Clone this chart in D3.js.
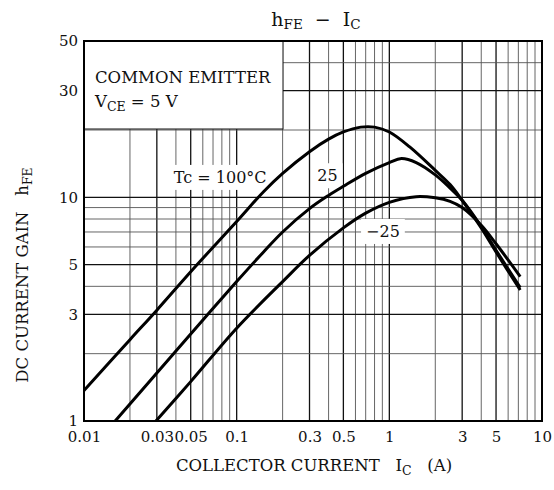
<!DOCTYPE html>
<html lang="en">
<head>
<meta charset="UTF-8">
<title>hFE - IC</title>
<script src="https://cdn.jsdelivr.net/npm/d3@7/dist/d3.min.js"></script>
<style>
    body { margin: 0; background: #fff; }
    svg text { font-family: "DejaVu Serif", "Liberation Serif", serif; fill: #111; }
</style>
</head>
<body>
<script>
    // tick labels
    const icTicks = [0.01, 0.03, 0.05, 0.1, 0.3, 0.5, 1, 3, 5, 10];
    const icTickText = ["0.01", "0.03", "0.05", "0.1", "0.3", "0.5", "1", "3", "5", "10"];
    const hfeTicks = [1, 3, 5, 10, 30, 50];

    // curves (IC in A, hFE)
    const tc100Ic  = [0.01, 0.02, 0.03, 0.05, 0.1, 0.15, 0.2, 0.3, 0.4, 0.5, 0.65, 0.8, 1.0, 1.36, 2.0, 2.5, 3.0, 4.0, 5.0, 7.2];
    const tc100Hfe = [1.37, 2.31, 3.13, 4.65, 7.8, 10.6, 12.8, 16.0, 18.2, 19.6, 20.6, 20.6, 19.6, 16.8, 13.2, 11.4, 9.7, 7.3, 5.7, 3.85];
    const tc25Ic   = [0.016, 0.03, 0.05, 0.1, 0.15, 0.2, 0.3, 0.4, 0.5, 0.7, 1.0, 1.2, 1.5, 2.0, 2.5, 3.0, 4.0, 5.0, 7.2];
    const tc25Hfe  = [1.0, 1.64, 2.45, 4.2, 5.7, 7.0, 8.9, 10.2, 11.2, 12.8, 14.3, 14.9, 14.3, 12.6, 11.0, 9.7, 7.4, 5.8, 3.95];
    const tcm25Ic  = [0.0296, 0.05, 0.1, 0.2, 0.3, 0.5, 0.7, 1.0, 1.5, 2.0, 2.5, 3.0, 4.0, 5.0, 7.2];
    const tcm25Hfe = [1.0, 1.5, 2.6, 4.2, 5.5, 7.3, 8.5, 9.5, 10.07, 9.95, 9.6, 9.0, 7.5, 6.2, 4.42];

    // curve labels: text, IC at centre, hFE at baseline
    const labelText = ["Tc = 100\u00B0C", "25", "\u221225"];
    const labelIc = [0.078, 0.393, 0.908];
    const labelHfe = [11.6, 11.8, 6.65];

    const width = 554, height = 490;
    const margin = { top: 41, right: 12, bottom: 69, left: 84 };
    const innerWidth = width - margin.left - margin.right;
    const innerHeight = height - margin.top - margin.bottom;

    const svg = d3.select("body").append("svg")
        .attr("width", width)
        .attr("height", height);

    const g = svg.append("g")
        .attr("transform", `translate(${margin.left},${margin.top})`);

    const x = d3.scaleLog().domain([0.01, 10]).range([0, innerWidth]);
    const y = d3.scaleLog().domain([1, 50]).range([innerHeight, 0]);

    // grid lines: 1..9 in every decade
    const xGrid = [];
    [0.01, 0.1, 1].forEach(d => { for (let k = 1; k < 10; k++) xGrid.push(+(d * k).toPrecision(3)); });
    const yGrid = [];
    [1, 10].forEach(d => { for (let k = 1; k < 10; k++) if (d * k <= 50) yGrid.push(d * k); });
    const isMajor = v => [1, 3, 5].includes(Math.round(v / Math.pow(10, Math.floor(Math.log10(v) + 1e-9))));

    g.append("g").selectAll("line")
        .data(xGrid.filter(d => d > 0.01))
        .enter().append("line")
        .attr("x1", d => x(d)).attr("x2", d => x(d))
        .attr("y1", 0).attr("y2", innerHeight)
        .attr("stroke", d => isMajor(d) ? "#111" : "#555")
        .attr("stroke-width", d => isMajor(d) ? 1.3 : 0.9);

    g.append("g").selectAll("line")
        .data(yGrid.filter(d => d > 1))
        .enter().append("line")
        .attr("x1", 0).attr("x2", innerWidth)
        .attr("y1", d => y(d)).attr("y2", d => y(d))
        .attr("stroke", d => isMajor(d) ? "#111" : "#555")
        .attr("stroke-width", d => isMajor(d) ? 1.3 : 0.9);

    // legend box hides the grid
    g.append("rect")
        .attr("x", 0).attr("y", 0)
        .attr("width", 199).attr("height", 88)
        .attr("fill", "#fff").attr("stroke", "#111").attr("stroke-width", 1);

    g.append("text").attr("x", 11).attr("y", 42)
        .style("font-size", "16.5px")
        .text("COMMON EMITTER");
    const vce = g.append("text").attr("x", 11).attr("y", 66).style("font-size", "16.5px");
    vce.append("tspan").text("V");
    vce.append("tspan").attr("dy", 4).style("font-size", "12.5px").text("CE");
    vce.append("tspan").attr("dy", -4).text(" = 5 V");

    // curve labels with white backgrounds
    labelText.forEach((t, i) => {
        const lbl = g.append("text")
            .attr("x", x(labelIc[i])).attr("y", y(labelHfe[i]))
            .attr("text-anchor", "middle")
            .style("font-size", "16px")
            .text(t);
        const bb = lbl.node().getBBox();
        g.insert("rect", "text")
            .attr("x", bb.x - 5).attr("y", bb.y - 3)
            .attr("width", bb.width + 10).attr("height", bb.height + 6)
            .attr("fill", "#fff");
    });

    // curves
    const line = d3.line()
        .x(d => x(d[0]))
        .y(d => y(d[1]))
        .curve(d3.curveCatmullRom.alpha(0.5));

    [[tc100Ic, tc100Hfe], [tc25Ic, tc25Hfe], [tcm25Ic, tcm25Hfe]].forEach(([ic, h]) => {
        g.append("path")
            .datum(ic.map((v, i) => [v, h[i]]))
            .attr("fill", "none")
            .attr("stroke", "#000")
            .attr("stroke-width", 3)
            .attr("stroke-linejoin", "round")
            .attr("d", line);
    });

    // frame
    g.append("rect")
        .attr("width", innerWidth).attr("height", innerHeight)
        .attr("fill", "none").attr("stroke", "#000").attr("stroke-width", 2);

    // axes
    const xAxis = g.append("g")
        .attr("transform", `translate(0,${innerHeight})`)
        .call(d3.axisBottom(x).tickValues(icTicks).tickSize(0).tickPadding(10)
            .tickFormat((d, i) => icTickText[i]));
    xAxis.select(".domain").remove();
    xAxis.selectAll("text").style("font-size", "15px").attr("fill", "#111")
        .style("font-family", "DejaVu Serif, serif");

    const yAxis = g.append("g")
        .call(d3.axisLeft(y).tickValues(hfeTicks).tickSize(0).tickPadding(6)
            .tickFormat(d3.format("d")));
    yAxis.select(".domain").remove();
    yAxis.selectAll("text").style("font-size", "15px").attr("fill", "#111")
        .style("font-family", "DejaVu Serif, serif");

    // title
    const title = svg.append("text")
        .attr("x", 316).attr("y", 26)
        .attr("text-anchor", "middle")
        .attr("xml:space", "preserve")
        .style("font-size", "19px");
    title.append("tspan").text("h");
    title.append("tspan").attr("dy", 3).style("font-size", "13.5px").text("FE");
    title.append("tspan").attr("dy", -3).text("  \u2212  I");
    title.append("tspan").attr("dy", 3).style("font-size", "13.5px").text("C");

    // x axis title
    const xt = svg.append("text")
        .attr("x", 314).attr("y", 471)
        .attr("text-anchor", "middle")
        .style("font-size", "16.5px")
        .attr("xml:space", "preserve");
    xt.append("tspan").text("COLLECTOR CURRENT   I");
    xt.append("tspan").attr("dy", 4).style("font-size", "12.5px").text("C");
    xt.append("tspan").attr("dy", -4).text("   (A)");

    // y axis title
    const yt = svg.append("text")
        .attr("transform", "translate(28,275) rotate(-90)")
        .attr("text-anchor", "middle")
        .style("font-size", "16.5px")
        .attr("xml:space", "preserve");
    yt.append("tspan").text("DC CURRENT GAIN   h");
    yt.append("tspan").attr("dy", 4).style("font-size", "12.5px").text("FE");
</script>
</body>
</html>
